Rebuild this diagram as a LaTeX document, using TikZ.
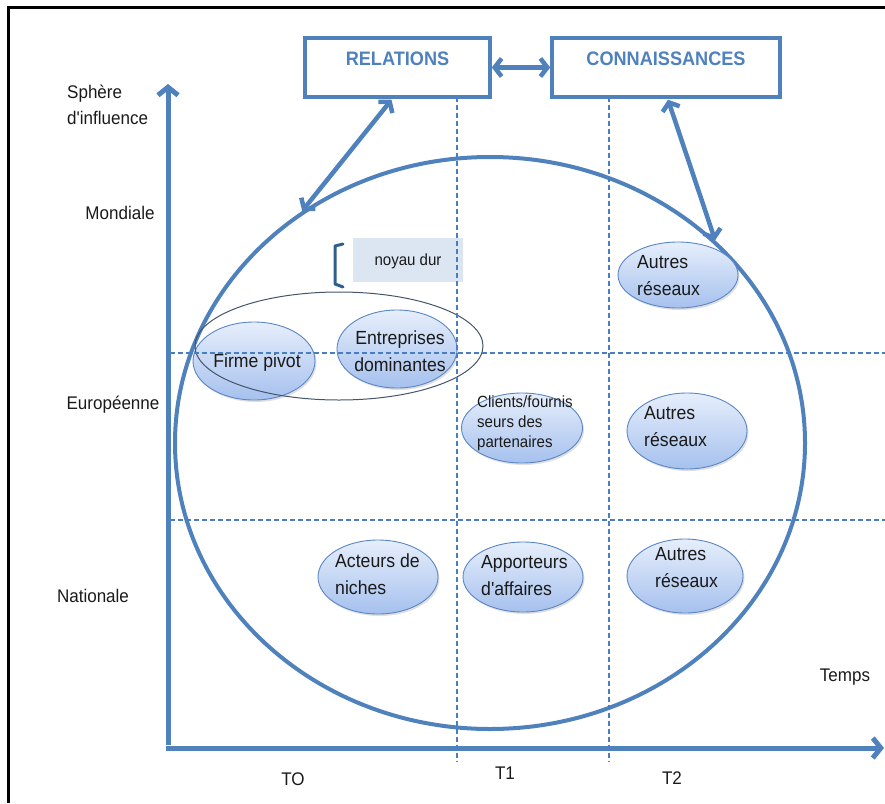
\documentclass[tikz,border=0pt]{standalone}
\usepackage{fontspec}
\setmainfont{Liberation Sans}
\newfontfamily\narrowfont{Liberation Sans}[FakeStretch=0.93]
\usetikzlibrary{arrows.meta,shapes.geometric,shadows}
\definecolor{axb}{HTML}{4F81BD}
\definecolor{gridb}{HTML}{4A7EC2}
\definecolor{bubline}{HTML}{5A86C6}
\definecolor{bubtop}{HTML}{E6EEFB}
\definecolor{bubbot}{HTML}{A6C1EE}
\definecolor{noyfill}{HTML}{DCE6F2}
\definecolor{brk}{HTML}{2F5F8F}
\definecolor{outl}{HTML}{44546A}
\definecolor{txtc}{HTML}{1A1A1A}
\tikzset{
  frameline/.style={line width=3pt, black},
  axisline/.style={line width=5pt, axb, -{Straight Barb[length=8pt,width=20pt]}},
  gridline/.style={gridb, line width=1.1pt, dash pattern=on 5pt off 3pt},
  topbox/.style={draw=axb, line width=3.5pt, fill=white, inner sep=0pt},
  boxtext/.style={axb, font=\narrowfont\bfseries\fontsize{19.5}{22}\selectfont},
  dblarrow/.style={axb, line width=4.5pt, {Straight Barb[length=7pt,width=18pt]}-{Straight Barb[length=7pt,width=18pt]}},
  bigcircle/.style={ellipse, draw=axb, line width=4pt, inner sep=0pt},
  bub/.style={ellipse, draw=bubline, line width=0.9pt, top color=bubtop, bottom color=bubbot, inner sep=0pt, drop shadow={shadow xshift=1.5pt, shadow yshift=-2pt, opacity=0.25}},
  bubtext/.style={txtc, align=left, font=\narrowfont\fontsize{19}{27}\selectfont, inner sep=0pt},
  smalltext/.style={txtc, align=left, font=\narrowfont\fontsize{16.2}{20}\selectfont, inner sep=0pt},
  axlabel/.style={txtc, align=left, font=\narrowfont\fontsize{18.3}{26}\selectfont, inner sep=0pt},
}
\begin{document}
\begin{tikzpicture}[x=1pt,y=-1pt]
\useasboundingbox (0,0) rectangle (885,803);
% frame
\draw[frameline] (8,803) -- (8,7) -- (885,7);

% big circle
\node[bigcircle, minimum width=630pt, minimum height=572pt] (circ) at (490,443) {};

% small ellipses
\node[bub, minimum width=122pt, minimum height=78pt] (fp) at (254,361) {};
\node[bub, minimum width=120pt, minimum height=78pt] (ed) at (397,349) {};
\node[bub, minimum width=121pt, minimum height=70pt] (cf) at (522,428) {};
\node[bub, minimum width=120pt, minimum height=66pt] (ar1) at (678,275) {};
\node[bub, minimum width=120pt, minimum height=76pt] (ar2) at (687,431) {};
\node[bub, minimum width=116pt, minimum height=74pt] (ar3) at (685,576) {};
\node[bub, minimum width=120pt, minimum height=74pt] (an) at (378,577) {};
\node[bub, minimum width=120pt, minimum height=70pt] (aa) at (523,577) {};

% outline ellipse around core
\node[ellipse, draw=outl, line width=1pt, minimum width=288pt, minimum height=108pt, inner sep=0pt] (core) at (339,346) {};

% texts in ellipses
\node[bubtext] (tfp) at (257,363) {Firme pivot};
\node[bubtext, align=center] (ted) at (400,351) {Entreprises\\dominantes};
\node[smalltext, anchor=west] (tcf) at (477,423) {Clients/fournis\\seurs des\\partenaires};
\node[bubtext, anchor=west] (tar1) at (637,276) {Autres\\réseaux};
\node[bubtext, anchor=west] (tar2) at (644,427) {Autres\\réseaux};
\node[bubtext, anchor=west] (tar3) at (655,568) {Autres\\réseaux};
\node[bubtext, anchor=west] (tan) at (335,574) {Acteurs de\\niches};
\node[bubtext, anchor=west] (taa) at (481,576) {Apporteurs\\d'affaires};

% noyau dur
\node[fill=noyfill, minimum width=110pt, minimum height=44pt, inner sep=0pt] (nd) at (408,260) {};
\node[smalltext] (tnd) at (408,261) {noyau dur};
\draw[brk, line width=3pt, line cap=round, line join=round] (343,244) -- (335,246) -- (335,284) -- (343,287);

% grid lines
\draw[gridline] (170,353) -- (885,353);
\draw[gridline] (170,520) -- (885,520);
\draw[gridline] (457,97) -- (457,762);
\draw[gridline] (609,97) -- (609,762);

% axes
\coordinate (ytip) at (168,84);
\coordinate (xtip) at (884,748);
\draw[axisline] (168,745) -- (ytip);
\draw[axisline] (166,748) -- (xtip);

% top boxes
\node[topbox, minimum width=185pt, minimum height=59pt] (rel) at (397.5,67.5) {};
\node[topbox, minimum width=228pt, minimum height=59pt] (con) at (666,67.5) {};
\node[boxtext] (trel) at (397.5,59) {RELATIONS};
\node[boxtext] (tcon) at (666,59) {CONNAISSANCES};

% arrows
\draw[dblarrow] (rel.east) -- (con.west);
\draw[dblarrow] ([xshift=-6pt,yshift=-1pt]rel.south) -- (circ.129);
\draw[dblarrow] ([xshift=2pt,yshift=-1pt]con.south) -- (circ.42);

% axis labels
\node[axlabel, anchor=west] (sph) at (67,105) {Sphère\\d'influence};
\node[axlabel] (mon) at (120,213) {Mondiale};
\node[axlabel] (eur) at (113,405) {Européenne};
\node[axlabel] (nat) at (93,596) {Nationale};
\node[axlabel] (tmp) at (845,677) {Temps};
\node[axlabel] (t0) at (293,779) {TO};
\node[axlabel] (t1) at (505,773) {T1};
\node[axlabel] (t2) at (672,778) {T2};
\end{tikzpicture}
\end{document}
